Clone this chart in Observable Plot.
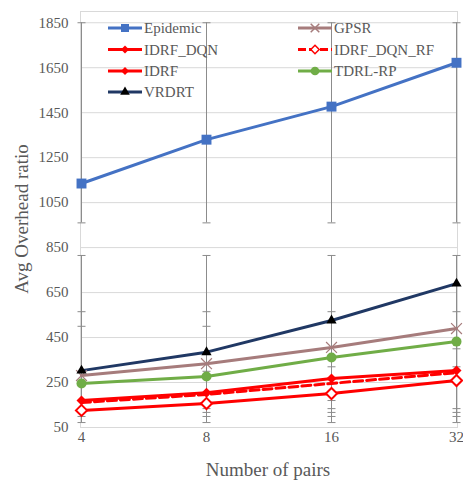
<!DOCTYPE html>
<html><head><meta charset="utf-8">
<script src="https://cdn.jsdelivr.net/npm/d3@7"></script>
<script src="https://cdn.jsdelivr.net/npm/@observablehq/plot@0.6"></script>
<style>
body{margin:0;background:#fff}
#chart svg{display:block}
#chart svg text{font-family:"Liberation Serif", "Times New Roman", serif}
</style>
</head><body><div id="chart"></div>
<script>
// ---- data ----
const pairs = ["4", "8", "16", "32"];
const yTicks = [50, 250, 450, 650, 850, 1050, 1250, 1450, 1650, 1850];
const seriesNames = ["Epidemic", "GPSR", "IDRF_DQN", "IDRF_DQN_RF", "IDRF", "TDRL-RP", "VRDRT"];
const epidemic   = [1135, 1330, 1477, 1672];
const gpsr       = [281, 334, 406, 490];
const idrfDqn    = [170, 205, 268, 303];
const idrfDqnRf  = [161, 197, 246, 294];
const idrf       = [126, 157, 201, 259];
const tdrlRp     = [246, 277, 361, 432];
const vrdrt      = [303, 385, 526, 690];
// error bar ends
const epidemicLow  = [960, 960, 960, 960];
const epidemicHigh = [1850, 1850, 1850, 1850];
const vrdrtLow  = [72, 72, 72, 72];
const vrdrtHigh = [815, 815, 815, 815];
const gpsrLow   = [99, 99, 99, 99];
const gpsrHigh  = [565, 565, 565, 565];
const tdrlLow   = [117, 117, 117, 117];
const tdrlHigh  = [500, 500, 320, 400];
const dqnLow    = [134, 134, 134, 134];
const dqnHigh   = [300, 300, 170, 320];

const colors = {
  "Epidemic": "#4472C4", "GPSR": "#A67C7C", "IDRF_DQN": "#FF0000",
  "IDRF_DQN_RF": "#FF0000", "IDRF": "#FF0000", "TDRL-RP": "#70AD47", "VRDRT": "#203864"
};

const valuesBy = {
  "Epidemic": epidemic, "GPSR": gpsr, "IDRF_DQN": idrfDqn, "IDRF_DQN_RF": idrfDqnRf,
  "IDRF": idrf, "TDRL-RP": tdrlRp, "VRDRT": vrdrt
};
const rows = seriesNames.flatMap(s => pairs.map((p, i) => ({series: s, pairs: p, value: valuesBy[s][i]})));
const errPairs = [[epidemicLow, epidemicHigh], [vrdrtLow, vrdrtHigh], [gpsrLow, gpsrHigh], [tdrlLow, tdrlHigh], [dqnLow, dqnHigh]];
const errRows = errPairs.flatMap(([lo, hi]) => pairs.map((p, i) => ({pairs: p, lo: lo[i], hi: hi[i]})));
const capRows = errRows.flatMap(d => [{pairs: d.pairs, v: d.lo}, {pairs: d.pairs, v: d.hi}]);

const capSymbol = {draw(ctx, size) { const r = Math.sqrt(size / Math.PI); ctx.moveTo(-r, 0); ctx.lineTo(r, 0); }};

const sub = s => rows.filter(d => d.series === s);
const FONT = "Liberation Serif";

const svg = Plot.plot({
  width: 463, height: 485,
  marginLeft: 80, marginRight: 6, marginTop: 11, marginBottom: 58,
  style: {fontFamily: FONT, fontSize: "15px", color: "#595959", background: "#fff"},
  x: {type: "point", domain: pairs, padding: 0, label: null},
  y: {domain: [50, 1900], label: null},
  marks: [
    Plot.gridY(yTicks, {stroke: "#d9d9d9", strokeOpacity: 1}),
    Plot.frame({stroke: "#d9d9d9"}),
    Plot.axisY(yTicks, {tickSize: 0, tickPadding: 12, fontSize: 15, fontFamily: FONT, fill: "#595959", tickFormat: d => String(d), label: null}),
    Plot.axisX(pairs, {tickSize: 0, tickPadding: 4, fontSize: 15, fontFamily: FONT, fill: "#595959", label: null}),
    Plot.ruleX(errRows, {x: "pairs", y1: "lo", y2: "hi", stroke: "#8c8c8c", strokeWidth: 1}),
    Plot.dot(capRows, {x: "pairs", y: "v", symbol: capSymbol, r: 4, stroke: "#8c8c8c", strokeWidth: 1, fill: "none"}),
    Plot.line(sub("Epidemic"), {x: "pairs", y: "value", stroke: colors["Epidemic"], strokeWidth: 3}),
    Plot.line(sub("GPSR"), {x: "pairs", y: "value", stroke: colors["GPSR"], strokeWidth: 3}),
    Plot.line(sub("TDRL-RP"), {x: "pairs", y: "value", stroke: colors["TDRL-RP"], strokeWidth: 3}),
    Plot.line(sub("VRDRT"), {x: "pairs", y: "value", stroke: colors["VRDRT"], strokeWidth: 3}),
    Plot.line(sub("IDRF"), {x: "pairs", y: "value", stroke: "#FF0000", strokeWidth: 3}),
    Plot.line(sub("IDRF_DQN_RF"), {x: "pairs", y: "value", stroke: "#FF0000", strokeWidth: 3, strokeDasharray: "9,4"}),
    Plot.line(sub("IDRF_DQN"), {x: "pairs", y: "value", stroke: "#FF0000", strokeWidth: 3}),
    Plot.dot(sub("Epidemic"), {x: "pairs", y: "value", symbol: "square", r: 5.6, fill: colors["Epidemic"]}),
    Plot.dot(sub("GPSR"), {x: "pairs", y: "value", symbol: "times", r: 5, stroke: colors["GPSR"], strokeWidth: 1.2}),
    Plot.dot(sub("TDRL-RP"), {x: "pairs", y: "value", symbol: "circle", r: 5, fill: colors["TDRL-RP"]}),
    Plot.dot(sub("VRDRT"), {x: "pairs", y: "value", symbol: "triangle", r: 3.8, fill: "#000"}),
    Plot.dot(sub("IDRF"), {x: "pairs", y: "value", symbol: "diamond2", r: 5, fill: "#fff", stroke: "#FF0000", strokeWidth: 2}),
    Plot.dot(sub("IDRF_DQN"), {x: "pairs", y: "value", symbol: "diamond2", r: 4.5, fill: "#FF0000"})
  ]
});

const g = d3.select(svg);
// axis titles
g.append("text").attr("x", 268).attr("y", 472).attr("text-anchor", "middle").attr("dominant-baseline", "middle")
  .attr("font-family", FONT).attr("font-size", 19).attr("fill", "#595959").text("Number of pairs");
g.append("text").attr("transform", "translate(24,219) rotate(-90)").attr("text-anchor", "middle").attr("dominant-baseline", "middle")
  .attr("font-family", FONT).attr("font-size", 19).attr("fill", "#595959").text("Avg Overhead ratio");

// legend
const legendItems = [
  {name: "Epidemic", sym: d3.symbolSquare, size: 64, fill: colors["Epidemic"], stroke: "none", dash: null},
  {name: "GPSR", sym: d3.symbolTimes, size: 50, fill: "none", stroke: colors["GPSR"], dash: null},
  {name: "IDRF_DQN", sym: d3.symbolDiamond2, size: 40, fill: "#FF0000", stroke: "none", dash: null},
  {name: "IDRF_DQN_RF", sym: d3.symbolDiamond2, size: 45, fill: "#fff", stroke: "#FF0000", dash: "8,3"},
  {name: "IDRF", sym: d3.symbolDiamond2, size: 40, fill: "#FF0000", stroke: "none", dash: null},
  {name: "TDRL-RP", sym: d3.symbolCircle, size: 60, fill: colors["TDRL-RP"], stroke: "none", dash: null},
  {name: "VRDRT", sym: d3.symbolTriangle, size: 40, fill: "#000", stroke: "none", dash: null}
];
const lg = g.append("g").attr("font-family", FONT).attr("font-size", 15).attr("text-anchor", "start");
const rowY = [28, 49.5, 71, 92];
legendItems.forEach((it, i) => {
  const col = i % 2, row = Math.floor(i / 2);
  const x0 = col === 0 ? 108 : 298, y0 = rowY[row];
  const item = lg.append("g").attr("transform", `translate(${x0},${y0})`);
  item.append("line").attr("x1", 0).attr("x2", 34).attr("y1", 0).attr("y2", 0)
    .attr("stroke", colors[it.name]).attr("stroke-width", 3).attr("stroke-dasharray", it.dash);
  item.append("path").attr("d", d3.symbol(it.sym, it.size)()).attr("transform", "translate(17,0)")
    .attr("fill", it.fill).attr("stroke", it.stroke === "none" ? null : it.stroke).attr("stroke-width", 1.5);
  item.append("text").attr("x", 36).attr("y", 0).attr("dy", "0.35em").attr("text-anchor", "start").attr("fill", "#595959").text(it.name);
});

document.getElementById("chart").appendChild(svg);
</script>
</body></html>
